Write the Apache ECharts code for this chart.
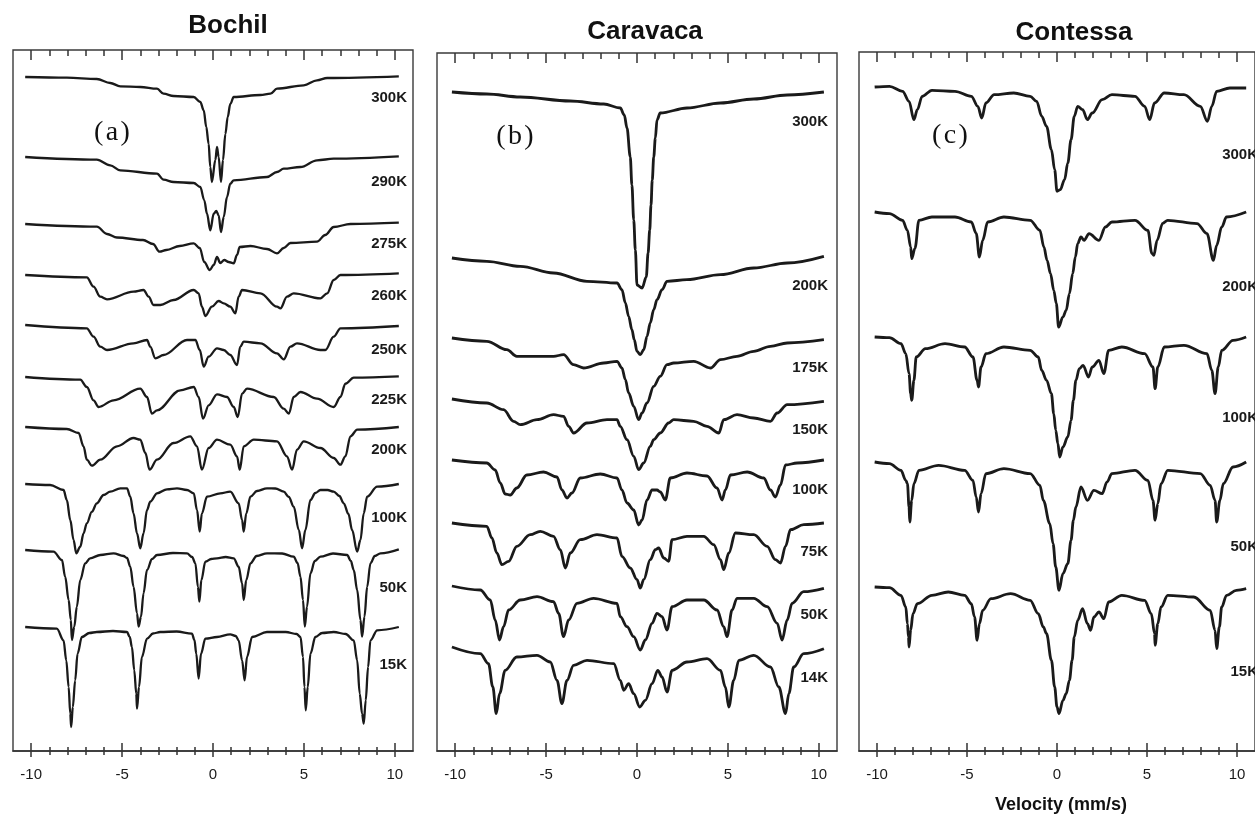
<!DOCTYPE html>
<html><head><meta charset="utf-8">
<script src="https://cdn.jsdelivr.net/npm/echarts@6/dist/echarts.min.js"></script>
<style>html,body{margin:0;padding:0;background:#fff}#c{width:1255px;height:814px}</style>
</head><body><div id="c"></div>
<script>
// ---------------- DATA (velocity mm/s, relative transmission a.u.) ----------------
const xTickLabels = [-10, -5, 0, 5, 10];
const xMinorTicks = [-9,-8,-7,-6,-4,-3,-2,-1,1,2,3,4,6,7,8,9];

// Panel (a) Bochil
const bochilTemps = ['300K','290K','275K','260K','250K','225K','200K','100K','50K','15K'];
const bochilOffsets = [674, 594, 527, 476, 426, 374, 324, 267, 201, 124];
const bochil300K = [[-10.33,0],[-8.04,-0.7],[-6.39,-2],[-5.65,-6],[-5.10,-9.3],[-4.00,-10],[-3.08,-11.7],[-2.72,-16.7],[-2.17,-19],[-1.06,-20],[-0.70,-25],[-0.51,-33.3],[-0.37,-50],[-0.24,-66.7],[-0.15,-90],[-0.06,-105],[0.13,-83],[0.22,-70],[0.31,-80],[0.44,-105],[0.55,-83],[0.68,-57],[0.81,-40],[0.95,-27],[1.14,-20],[2.61,-18],[3.16,-16.7],[3.52,-11.7],[4.99,-8.3],[5.72,-3.3],[6.28,-1],[10.22,0.7]];
const bochil290K = [[-10.33,0],[-6.39,-2.7],[-5.65,-8.3],[-5.10,-13.3],[-3.08,-16.7],[-2.72,-22.7],[-2.17,-25],[-1.06,-26],[-0.70,-30],[-0.48,-43.3],[-0.33,-56.7],[-0.15,-73.3],[0.04,-56.7],[0.18,-54],[0.31,-58.3],[0.44,-75],[0.59,-60],[0.77,-40],[0.95,-26.7],[1.14,-23.3],[2.97,-20],[3.52,-15],[3.89,-11.7],[4.81,-10],[5.72,-3.3],[6.64,-1.7],[10.22,0.7]];
const bochil275K = [[-10.33,0],[-6.39,-2.7],[-5.83,-10],[-5.28,-13.5],[-3.85,-16],[-3.30,-20],[-2.94,-27.7],[-2.57,-26],[-1.83,-22],[-1.06,-19.3],[-0.73,-24],[-0.48,-38],[-0.18,-46],[0.04,-41],[0.22,-33],[0.40,-39],[0.62,-36],[0.86,-38],[1.14,-39.3],[1.32,-31],[1.47,-23],[2.06,-22],[2.97,-25],[3.52,-29.3],[3.89,-24],[4.26,-19],[5.72,-17.7],[6.17,-11],[6.64,-3],[7.56,0],[10.22,1.3]];
const bochil260K = [[-10.33,0],[-6.94,-2.3],[-6.57,-11.7],[-6.20,-21.7],[-5.83,-24.3],[-4.37,-16.7],[-3.82,-15],[-3.54,-21.7],[-3.27,-30],[-2.90,-30],[-2.17,-25],[-1.06,-15],[-0.79,-18.3],[-0.61,-31.7],[-0.42,-41],[-0.06,-31.7],[0.31,-26],[0.59,-28.3],[0.95,-31.7],[1.23,-38.3],[1.41,-21.7],[1.60,-15],[2.61,-18.3],[3.52,-31.7],[3.71,-33.3],[4.07,-21.7],[4.44,-18.3],[5.91,-23.3],[6.28,-18.3],[6.64,-5],[7.01,0],[10.22,1.7]];
const bochil250K = [[-10.33,0],[-6.94,-3.3],[-6.57,-11.7],[-6.20,-21.7],[-5.83,-25],[-4.37,-18.3],[-3.63,-15],[-3.45,-21.7],[-3.17,-33.3],[-2.72,-30],[-1.43,-15],[-0.97,-15],[-0.73,-25],[-0.51,-41.7],[-0.24,-31.7],[0.22,-23.3],[0.59,-25],[0.95,-30],[1.32,-40],[1.50,-21.7],[1.69,-16.7],[2.61,-18.3],[3.52,-28.3],[3.89,-34.3],[4.26,-21.7],[4.62,-18.3],[5.91,-25],[6.18,-25],[6.64,-11.7],[7.01,-3.3],[10.22,-1]];
const bochil225K = [[-10.33,0],[-7.30,-2.7],[-6.94,-10],[-6.57,-23.3],[-6.29,-30],[-5.47,-23.3],[-4.00,-11.7],[-3.63,-20],[-3.36,-36.7],[-3.08,-33.3],[-1.80,-13.3],[-1.06,-10],[-0.79,-20],[-0.55,-41.7],[-0.24,-28.3],[0.22,-17.3],[0.77,-20],[1.14,-30],[1.36,-40],[1.60,-16.7],[1.87,-11.7],[3.34,-20],[3.89,-31.7],[4.17,-36.7],[4.44,-20],[4.81,-15],[5.72,-21.7],[6.64,-30],[7.01,-20],[7.28,-6.7],[7.74,-0.7],[10.22,0.7]];
const bochil200K = [[-10.33,0],[-8.04,-2],[-7.39,-6],[-7.12,-19.3],[-6.94,-32.7],[-6.66,-38.7],[-6.20,-32.7],[-5.28,-19.3],[-4.37,-11],[-4.00,-12.7],[-3.72,-26],[-3.49,-42.7],[-3.08,-32.7],[-2.17,-16],[-1.25,-9.3],[-0.88,-19.3],[-0.61,-42.7],[-0.24,-21],[0.22,-12.7],[0.95,-17.7],[1.32,-29.3],[1.47,-42.7],[1.69,-19.3],[2.24,-12.7],[3.52,-14.3],[4.07,-29.3],[4.35,-42.7],[4.62,-22.7],[4.99,-14.3],[5.91,-21],[6.64,-31],[7.01,-37.7],[7.28,-29.3],[7.56,-9.3],[7.93,-2.7],[10.22,0]];
const bochil100K = [[-10.33,0],[-8.96,-1],[-8.22,-6],[-8.04,-16],[-7.85,-36],[-7.67,-56],[-7.52,-69.3],[-7.30,-62.7],[-7.12,-49.3],[-6.94,-39.3],[-6.66,-27.7],[-6.39,-19.3],[-6.02,-11],[-5.65,-7.7],[-5.10,-4.3],[-4.73,-4.3],[-4.55,-12.7],[-4.37,-29.3],[-4.18,-49.3],[-4.00,-64.3],[-3.82,-49.3],[-3.63,-26],[-3.45,-17.7],[-3.08,-9.3],[-2.53,-5.3],[-1.98,-4.3],[-1.43,-6],[-1.06,-9.3],[-0.88,-26],[-0.73,-47.7],[-0.61,-29.3],[-0.33,-12.7],[0.40,-9.3],[0.95,-7.7],[1.41,-19.3],[1.60,-36],[1.69,-47.7],[1.83,-29.3],[2.06,-12.7],[2.42,-7],[2.97,-4.3],[3.43,-4.5],[3.89,-7.7],[4.17,-13],[4.44,-22.7],[4.72,-46],[4.90,-64.3],[5.08,-46],[5.36,-16],[5.63,-9],[5.91,-6],[6.30,-6],[6.64,-7.7],[6.95,-12],[7.19,-19.3],[7.45,-30],[7.65,-46],[7.93,-67.7],[8.11,-56],[8.29,-29.3],[8.48,-12.7],[9.03,-2.7],[10.22,0]];
const bochil50K = [[-10.33,0],[-8.77,-1.7],[-8.31,-10],[-8.13,-26.7],[-7.94,-50],[-7.82,-70],[-7.76,-90],[-7.63,-76.7],[-7.49,-56.7],[-7.30,-30],[-7.03,-13.3],[-6.76,-8.3],[-6.20,-5],[-5.47,-3.3],[-4.92,-6],[-4.73,-8],[-4.55,-16.7],[-4.37,-36.7],[-4.18,-63.3],[-4.09,-76.7],[-3.96,-66.7],[-3.82,-43.3],[-3.63,-20],[-3.35,-9],[-3.08,-5],[-2.2,-3],[-1.43,-3.3],[-1.15,-7],[-0.97,-13.3],[-0.83,-36.7],[-0.75,-51.7],[-0.64,-30],[-0.42,-11.7],[-0.1,-9],[0.22,-8.3],[0.7,-7],[1.14,-8.3],[1.41,-16.7],[1.60,-33.3],[1.69,-50],[1.83,-30],[2.06,-13.3],[2.4,-6],[2.97,-3.3],[3.8,-3.5],[4.44,-6.7],[4.65,-13],[4.81,-26.7],[4.95,-50],[5.05,-76.7],[5.17,-56.7],[5.36,-23.3],[5.6,-11],[5.91,-6.7],[6.6,-3.5],[7.38,-5],[7.58,-11],[7.74,-20],[7.93,-40],[8.11,-70],[8.20,-86.7],[8.33,-66.7],[8.48,-36.7],[8.66,-13.3],[8.9,-6],[9.21,-3.3],[10.22,0.7]];
const bochil15K = [[-10.33,0],[-8.59,-1.7],[-8.22,-13.3],[-8.07,-33.3],[-7.94,-60],[-7.85,-86.7],[-7.80,-100],[-7.71,-80],[-7.58,-53.3],[-7.45,-26.7],[-7.21,-10],[-6.8,-6],[-6.39,-5],[-5.5,-4],[-4.73,-5],[-4.58,-10],[-4.46,-20],[-4.33,-43.3],[-4.22,-66.7],[-4.18,-81.7],[-4.07,-60],[-3.91,-30],[-3.63,-11.7],[-3.3,-6.5],[-2.90,-5],[-2.0,-4.5],[-1.16,-6.7],[-1.02,-13],[-0.92,-26.7],[-0.79,-51.7],[-0.66,-26.7],[-0.42,-11.7],[0.22,-10],[0.95,-7.3],[1.25,-9],[1.41,-13.3],[1.60,-33.3],[1.74,-53.3],[1.87,-30],[2.15,-10],[2.97,-5],[4.0,-5],[4.6,-7],[4.81,-10],[4.95,-30],[5.03,-60],[5.10,-83.3],[5.21,-60],[5.36,-26.7],[5.63,-10],[6.0,-6],[6.64,-5],[7.3,-7],[7.74,-13.3],[7.93,-33.3],[8.07,-66.7],[8.20,-86.7],[8.29,-96.7],[8.40,-73.3],[8.53,-40],[8.66,-13.3],[9.03,-3.3],[10.22,0]];

// Panel (b) Caravaca
const caravacaTemps = ['300K','200K','175K','150K','100K','75K','50K','14K'];
const caravacaOffsets = [659, 493, 413, 352, 291, 228, 165, 104];
const caravaca300K = [[-10.18,0],[-8.26,-2],[-6.42,-5],[-3.67,-9],[-1.83,-12],[-0.92,-16],[-0.70,-23],[-0.55,-36],[-0.37,-65],[-0.28,-93],[-0.18,-128],[-0.09,-158],[0,-193],[0.28,-196],[0.51,-185],[0.61,-161],[0.70,-138],[0.77,-113],[0.84,-88],[0.92,-65],[1.01,-46],[1.10,-28],[1.28,-21],[2.75,-16],[4.59,-11],[6.42,-7],[8.26,-3],[10.28,0]];
const caravaca200K = [[-10.18,0],[-8.26,-3.3],[-6.42,-8.3],[-4.59,-15],[-2.75,-23.3],[-1.10,-25],[-0.83,-31.7],[-0.64,-45],[-0.46,-58.3],[-0.28,-71.7],[-0.15,-81.7],[0,-93.3],[0.18,-96.7],[0.37,-91.7],[0.55,-78.3],[0.73,-65],[0.92,-51.7],[1.10,-41.7],[1.38,-31.7],[1.65,-23.3],[2.75,-21.7],[4.59,-16.7],[6.42,-10],[8.26,-5],[10.28,1.7]];
const caravaca175K = [[-10.18,0],[-8.26,-3.3],[-7.16,-11.7],[-6.61,-18.3],[-4.59,-18.3],[-4.04,-16.7],[-3.49,-26.7],[-2.94,-30],[-1.83,-25],[-1.10,-23.3],[-0.83,-30],[-0.64,-41.7],[-0.46,-55],[-0.18,-68.3],[0.09,-81.7],[0.28,-75],[0.55,-65],[0.92,-48.3],[1.28,-38.3],[1.65,-26.7],[2.02,-25],[3.12,-23.3],[4.04,-30],[4.59,-21.7],[5.50,-18.3],[6.42,-13.3],[7.34,-8.3],[8.26,-5],[10.28,-1.7]];
const caravaca150K = [[-10.18,0],[-8.26,-4],[-7.34,-10.7],[-6.79,-22.3],[-6.42,-25.7],[-5.50,-20.7],[-4.59,-15.7],[-4.04,-17.3],[-3.76,-27.3],[-3.49,-34],[-2.75,-24],[-1.65,-20.7],[-1.10,-20.7],[-0.92,-27.3],[-0.55,-40.7],[-0.18,-57.3],[0.09,-70.7],[0.37,-64],[0.73,-47.3],[0.92,-40.7],[1.28,-34],[1.74,-24],[2.02,-20.7],[3.12,-22.3],[3.85,-27.3],[4.50,-34],[4.77,-20.7],[5.50,-15.7],[6.42,-19],[7.34,-22.3],[7.71,-14],[8.26,-5.7],[10.28,-2.3]];
const caravaca100K = [[-10.18,0],[-8.26,-3],[-7.80,-10],[-7.52,-23],[-7.25,-34],[-6.97,-35],[-6.61,-28],[-6.06,-15],[-5.14,-12],[-4.40,-17],[-4.13,-30],[-3.85,-38],[-3.58,-33],[-3.12,-18],[-2.02,-14],[-1.10,-18],[-0.83,-30],[-0.55,-43],[-0.18,-50],[0.09,-65],[0.28,-60],[0.55,-40],[0.83,-30],[1.10,-30],[1.28,-32],[1.56,-40],[1.83,-18],[2.75,-13],[3.85,-16],[4.40,-28],[4.68,-40],[4.86,-30],[5.14,-15],[6.06,-12],[6.97,-18],[7.34,-30],[7.61,-37],[7.89,-25],[8.17,-5],[8.81,-3],[10.28,0]];
const caravaca75K = [[-10.18,0],[-8.26,-3.3],[-7.98,-15],[-7.71,-30],[-7.43,-41.7],[-7.06,-38.3],[-6.61,-23.3],[-5.87,-11.7],[-5.32,-8.3],[-4.59,-13.3],[-4.22,-26.7],[-3.94,-45],[-3.67,-30],[-3.12,-16.7],[-2.20,-11.7],[-1.10,-15],[-0.83,-33.3],[-0.37,-45],[0,-56.7],[0.18,-65],[0.37,-56.7],[0.73,-36.7],[1.01,-26.7],[1.19,-25],[1.47,-35],[1.74,-38.3],[1.93,-16.7],[2.75,-13.3],[3.67,-13.3],[4.22,-21.7],[4.59,-36.7],[4.77,-46.7],[5.05,-30],[5.41,-10],[6.42,-11.7],[7.16,-23.3],[7.61,-36.7],[7.89,-40],[8.17,-23.3],[8.44,-6.7],[9.17,-1.7],[10.28,0]];
const caravaca50K = [[-10.18,0],[-8.62,-4],[-8.07,-14],[-7.80,-34],[-7.56,-54],[-7.34,-40.7],[-7.06,-24],[-6.42,-14],[-5.50,-10.7],[-4.59,-15.7],[-4.31,-27.3],[-4.04,-50.7],[-3.76,-34],[-3.30,-17.3],[-2.39,-12.3],[-1.10,-17.3],[-0.92,-30.7],[-0.55,-40.7],[-0.18,-50.7],[0.18,-64],[0.46,-54],[0.83,-37.3],[1.10,-27.3],[1.38,-30.7],[1.65,-44],[1.93,-20.7],[2.75,-14],[3.67,-14],[4.40,-24],[4.77,-40.7],[4.95,-50.7],[5.23,-24],[5.50,-12.3],[6.42,-12.3],[7.16,-20.7],[7.71,-37.3],[7.98,-54],[8.26,-34],[8.53,-17.3],[9.17,-5.7],[10.28,-2.3]];
const caravaca14K = [[-10.18,0],[-8.62,-6.7],[-8.17,-16.7],[-7.93,-40],[-7.74,-66.7],[-7.56,-46.7],[-7.25,-23.3],[-6.61,-10],[-5.50,-8.3],[-4.77,-15],[-4.40,-33.3],[-4.13,-56.7],[-3.85,-33.3],[-3.49,-18.3],[-2.75,-13.3],[-1.28,-16.7],[-0.92,-33.3],[-0.73,-43.3],[-0.46,-36.7],[-0.18,-46.7],[0.15,-60],[0.46,-53.3],[0.83,-36.7],[1.14,-23.3],[1.38,-30],[1.65,-45],[1.93,-23.3],[2.75,-15],[3.85,-11.7],[4.59,-23.3],[4.86,-40],[5.05,-60],[5.32,-33.3],[5.60,-13.3],[6.42,-8.3],[7.34,-20],[7.80,-40],[8.17,-66.7],[8.35,-46.7],[8.62,-20],[9.17,-6.7],[10.28,-1.7]];

// Panel (c) Contessa
const contessaTemps = ['300K','200K','100K','50K','15K'];
const contessaOffsets = [664, 539, 414, 289, 164];
const contessa300K = [[-10.13,0],[-9.31,0.7],[-8.58,-4.3],[-8.22,-14.3],[-7.95,-32.7],[-7.76,-22.7],[-7.49,-9.3],[-6.95,-3.3],[-5.67,-4.3],[-4.76,-9.3],[-4.40,-19.3],[-4.18,-31],[-3.95,-16],[-3.49,-7.7],[-2.40,-6],[-1.49,-9.3],[-1.13,-14.3],[-0.85,-29.3],[-0.58,-39.3],[-0.31,-62.7],[-0.13,-82.7],[0,-104.3],[0.18,-102.7],[0.42,-92.7],[0.60,-76],[0.78,-52.7],[0.96,-29.3],[1.15,-19.3],[1.42,-22.7],[1.69,-32.7],[1.96,-26],[2.51,-12.7],[3.05,-7.7],[4.33,-9.3],[4.87,-19.3],[5.15,-32.7],[5.42,-16],[5.96,-6],[7.05,-7.7],[7.96,-19.3],[8.36,-34.3],[8.60,-19.3],[8.87,-4.3],[9.60,-1],[10.51,-1]];
const contessa200K = [[-10.13,0],[-9.31,-1.6],[-8.58,-8.3],[-8.31,-18.3],[-8.13,-35],[-8.07,-46.6],[-7.89,-36.3],[-7.67,-8.3],[-6.95,-5],[-5.67,-5],[-4.76,-10],[-4.49,-21.3],[-4.31,-45],[-4.13,-28.3],[-3.85,-10],[-2.95,-5],[-1.49,-8.3],[-0.95,-18.3],[-0.73,-35],[-0.55,-48.3],[-0.36,-61.6],[-0.18,-78.3],[-0.04,-91.3],[0.09,-115],[0.33,-105],[0.51,-98.3],[0.69,-81.6],[0.87,-61.6],[1.02,-45],[1.15,-31.6],[1.33,-25],[1.51,-28.3],[1.78,-21.6],[2.33,-28.3],[2.69,-15],[3.05,-10],[4.33,-8.3],[5.05,-18.3],[5.27,-41.3],[5.38,-43.3],[5.56,-28.3],[5.87,-11.3],[6.15,-8.3],[7.78,-11.6],[8.33,-21.6],[8.69,-48.3],[8.87,-33.3],[9.15,-15],[9.42,-5],[10.51,0]];
const contessa100K = [[-10.13,0],[-9.31,-0.7],[-8.67,-6.7],[-8.40,-16.7],[-8.22,-36.7],[-8.13,-56.7],[-8.07,-63.3],[-7.95,-43.3],[-7.82,-20],[-7.31,-11.7],[-6.22,-6.7],[-5.13,-10],[-4.67,-20],[-4.44,-43.3],[-4.36,-50],[-4.22,-30],[-3.95,-16.7],[-2.95,-10],[-1.49,-13.3],[-1.04,-20],[-0.85,-33.3],[-0.58,-43.3],[-0.31,-56.7],[-0.18,-76.7],[-0.07,-93.3],[0.05,-106.7],[0.15,-120],[0.33,-110],[0.60,-100],[0.78,-83.3],[0.91,-63.3],[1.05,-43.3],[1.24,-31.7],[1.45,-28.3],[1.75,-40],[1.96,-30],[2.33,-23.3],[2.60,-36.7],[2.87,-13.3],[3.60,-10],[4.87,-16.7],[5.33,-30],[5.45,-51.7],[5.60,-30],[5.96,-10],[7.05,-8.3],[8.33,-16.7],[8.60,-33.3],[8.78,-56.7],[8.96,-30],[9.15,-13.3],[9.78,-3.3],[10.51,0]];
const contessa50K = [[-10.13,0],[-9.31,-1.6],[-8.67,-8.3],[-8.40,-18.3],[-8.31,-21.6],[-8.22,-45],[-8.18,-60],[-8.07,-38.3],[-7.95,-21.6],[-7.67,-8.3],[-6.58,-3.3],[-5.13,-8.3],[-4.67,-18.3],[-4.49,-35],[-4.36,-50],[-4.22,-31.6],[-3.95,-11.6],[-2.95,-6.6],[-1.49,-11.6],[-0.95,-23.3],[-0.76,-38.3],[-0.40,-61.6],[-0.22,-81.6],[-0.07,-105],[0.11,-128.3],[0.33,-111.6],[0.60,-101.6],[0.78,-78.3],[0.91,-58.3],[1.05,-45],[1.33,-25],[1.69,-38.3],[2.05,-28.3],[2.51,-31.6],[2.78,-20],[3.05,-11.6],[4.33,-8.3],[5.05,-18.3],[5.33,-38.3],[5.45,-58.3],[5.60,-41.6],[5.78,-21.6],[6.15,-8.3],[7.96,-11.6],[8.51,-23.3],[8.78,-38.3],[8.87,-60],[9.05,-38.3],[9.24,-21.6],[9.78,-5],[10.51,0]];
const contessa15K = [[-10.13,0],[-9.31,-0.7],[-8.67,-8.3],[-8.40,-20],[-8.31,-36.7],[-8.25,-50],[-8.22,-60],[-8.13,-43.3],[-8.00,-26.7],[-7.76,-16.7],[-6.95,-8.3],[-6.04,-5],[-5.13,-8.3],[-4.76,-16.7],[-4.58,-30],[-4.44,-53.3],[-4.31,-36.7],[-4.13,-23.3],[-3.67,-11.7],[-2.58,-6.7],[-1.49,-13.3],[-1.04,-26.7],[-0.76,-40],[-0.58,-46.7],[-0.31,-73.3],[-0.13,-100],[0,-120],[0.11,-126.7],[0.33,-113.3],[0.51,-106.7],[0.69,-93.3],[0.84,-73.3],[0.96,-50],[1.15,-33.3],[1.42,-21.7],[1.69,-36.7],[1.87,-43.3],[2.05,-30],[2.33,-25],[2.60,-31.7],[2.87,-15],[3.60,-8.3],[4.87,-13.3],[5.24,-26.7],[5.42,-46.7],[5.45,-58.3],[5.60,-36.7],[5.78,-20],[6.15,-8.3],[7.60,-10],[8.51,-23.3],[8.78,-43.3],[8.87,-61.7],[9.02,-40],[9.15,-20],[9.42,-8.3],[9.96,-3.3],[10.51,-1.7]];

// ---------------- LAYOUT / STYLE ----------------
const CH = 814, AXIS_Y = 751;
const layout = [
  {title:'Bochil', tag:'(a)', grid:{left:13, right:842, top:50}, titleXY:[228,26], tagXY:[112,133], lw:2.3,
   labelAlign:'right', labelX:407, labelY:[98,182,244,296,350,400,450,518,588,665]},
  {title:'Caravaca', tag:'(b)', grid:{left:437, right:418, top:53}, titleXY:[645,32], tagXY:[515,137], lw:2.8,
   labelAlign:'right', labelX:828, labelY:[122,286,368,430,490,552,615,678]},
  {title:'Contessa', tag:'(c)', grid:{left:859, right:-8, top:52}, titleXY:[1074,33], tagXY:[950,136], lw:2.8,
   labelAlign:'right', labelX:1258, labelY:[155,287,418,547,672]}
];
const panels = [
  {temps:bochilTemps, offsets:bochilOffsets, spectra:[bochil300K,bochil290K,bochil275K,bochil260K,bochil250K,bochil225K,bochil200K,bochil100K,bochil50K,bochil15K]},
  {temps:caravacaTemps, offsets:caravacaOffsets, spectra:[caravaca300K,caravaca200K,caravaca175K,caravaca150K,caravaca100K,caravaca75K,caravaca50K,caravaca14K]},
  {temps:contessaTemps, offsets:contessaOffsets, spectra:[contessa300K,contessa200K,contessa100K,contessa50K,contessa15K]}
];

const INK = '#1a1a1a';
const SANS = '"Liberation Sans", Arial, Helvetica, sans-serif';
const grids = [], xAxes = [], yAxes = [], series = [], graphics = [];

function ax(gi, pos, opts) {
  return Object.assign({
    gridIndex: gi, type: 'value', min: -11, max: 11, position: pos,
    axisLine: {show: false}, splitLine: {show: false},
    axisLabel: {show: false}, axisTick: {show: false}, minorTick: {show: false}
  }, opts);
}
const tickStyle = {color: '#333', width: 1.5};

layout.forEach((L, p) => {
  grids.push({left: L.grid.left, right: L.grid.right, top: L.grid.top, bottom: CH - AXIS_Y,
              show: true, borderColor: '#3a3a3a', borderWidth: 1.4, backgroundColor: 'transparent'});
  const base = xAxes.length;
  xAxes.push(ax(p, 'bottom', {
    axisLine: {show: true, onZero: false, lineStyle: {color: '#333', width: 1.5}},
    axisTick: {show: true, inside: true, length: 8, customValues: xTickLabels, lineStyle: tickStyle},
    axisLabel: {show: true, customValues: xTickLabels, margin: 16, fontSize: 15, color: '#1a1a1a', fontFamily: SANS,
                formatter: v => String(v)}
  }));
  xAxes.push(ax(p, 'bottom', {axisTick: {show: true, inside: false, length: 6, customValues: xTickLabels, lineStyle: tickStyle}}));
  xAxes.push(ax(p, 'bottom', {axisTick: {show: true, inside: true, length: 4, customValues: xMinorTicks, lineStyle: tickStyle}}));
  xAxes.push(ax(p, 'bottom', {axisTick: {show: true, inside: false, length: 4, customValues: xMinorTicks, lineStyle: tickStyle}}));
  xAxes.push(ax(p, 'top', {axisTick: {show: true, inside: true, length: 10, customValues: xTickLabels, lineStyle: tickStyle}}));
  xAxes.push(ax(p, 'top', {axisTick: {show: true, inside: true, length: 6, customValues: xMinorTicks, lineStyle: tickStyle}}));
  yAxes.push({gridIndex: p, type: 'value', min: 0, max: AXIS_Y - L.grid.top, show: false});

  const P = panels[p];
  P.spectra.forEach((sp, i) => {
    series.push({
      type: 'line', xAxisIndex: base, yAxisIndex: p, name: L.title + ' ' + P.temps[i],
      data: sp.map(d => [d[0], P.offsets[i] + d[1]]),
      showSymbol: false, smooth: 0.35, smoothMonotone: 'x', clip: false, silent: true,
      lineStyle: {color: INK, width: L.lw}
    });
    graphics.push({type: 'text', x: L.labelX, y: L.labelY[i], silent: true,
      style: {text: P.temps[i], fill: '#1a1a1a', font: 'bold 15px ' + SANS,
              align: L.labelAlign, verticalAlign: 'middle', textAlign: L.labelAlign, textVerticalAlign: 'middle'}});
  });
  graphics.push({type: 'text', x: L.titleXY[0], y: L.titleXY[1], silent: true,
    style: {text: L.title, fill: '#111', font: 'bold 26px ' + SANS,
            align: 'center', verticalAlign: 'middle', textAlign: 'center', textVerticalAlign: 'middle'}});
  graphics.push({type: 'text', x: L.tagXY[0], y: L.tagXY[1], silent: true,
    style: {text: L.tag.replace('(', '(\u200A').replace(')', '\u200A)'), fill: '#111',
            font: '28px "Liberation Serif", "Times New Roman", serif',
            align: 'center', verticalAlign: 'middle', textAlign: 'center', textVerticalAlign: 'middle'}});
});
graphics.push({type: 'text', x: 1061, y: 805, silent: true,
  style: {text: 'Velocity (mm/s)', fill: '#111', font: 'bold 18px ' + SANS,
          align: 'center', verticalAlign: 'middle', textAlign: 'center', textVerticalAlign: 'middle'}});

const chart = echarts.init(document.getElementById('c'), null, {renderer: 'canvas'});
chart.setOption({
  animation: false, backgroundColor: '#fff',
  grid: grids, xAxis: xAxes, yAxis: yAxes, series: series, graphic: graphics
});
</script>
</body></html>
